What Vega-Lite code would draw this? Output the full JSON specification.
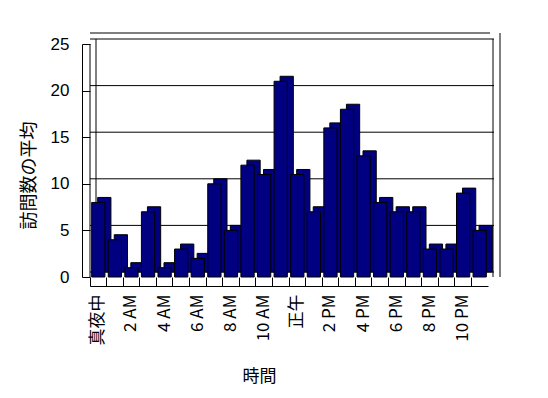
{
  "$schema": "https://vega.github.io/schema/vega-lite/v6.json",
  "width": 398,
  "height": 233,
  "autosize": "none",
  "padding": {"left": 90, "top": 44, "right": 60, "bottom": 121},
  "background": "white",
  "config": {"view": {"stroke": null}},
  "datasets": {
    "visits": [
      {"hour": "真夜中", "count": 8},
      {"hour": "1 AM", "count": 4},
      {"hour": "2 AM", "count": 1},
      {"hour": "3 AM", "count": 7},
      {"hour": "4 AM", "count": 1},
      {"hour": "5 AM", "count": 3},
      {"hour": "6 AM", "count": 2},
      {"hour": "7 AM", "count": 10},
      {"hour": "8 AM", "count": 5},
      {"hour": "9 AM", "count": 12},
      {"hour": "10 AM", "count": 11},
      {"hour": "11 AM", "count": 21},
      {"hour": "正午", "count": 11},
      {"hour": "1 PM", "count": 7},
      {"hour": "2 PM", "count": 16},
      {"hour": "3 PM", "count": 18},
      {"hour": "4 PM", "count": 13},
      {"hour": "5 PM", "count": 8},
      {"hour": "6 PM", "count": 7},
      {"hour": "7 PM", "count": 7},
      {"hour": "8 PM", "count": 3},
      {"hour": "9 PM", "count": 3},
      {"hour": "10 PM", "count": 9},
      {"hour": "11 PM", "count": 5}
    ],
    "grid": [{"count": 0}, {"count": 5}, {"count": 10}, {"count": 15}, {"count": 20}, {"count": 25}]
  },
  "layer": [
    {
      "data": {"name": "grid"},
      "mark": {"type": "rule", "color": "black", "strokeWidth": 1, "xOffset": 6, "x2Offset": 5, "yOffset": -5},
      "encoding": {
        "y": {"field": "count", "type": "quantitative", "scale": {"domain": [0, 25], "nice": false}}
      }
    },
    {
      "data": {"name": "grid"},
      "transform": [{"filter": "datum.count == 25"}],
      "mark": {"type": "rule", "color": "black", "strokeWidth": 1, "xOffset": 2, "x2Offset": 12, "yOffset": -11},
      "encoding": {
        "y": {"field": "count", "type": "quantitative"}
      }
    },
    {
      "data": {"name": "visits"},
      "transform": [{"filter": "datum.hour == '真夜中'"}],
      "mark": {"type": "rule", "color": "black", "strokeWidth": 1},
      "encoding": {
        "x": {"field": "hour", "type": "nominal", "bandPosition": 0}
      }
    },
    {
      "data": {"name": "visits"},
      "transform": [{"filter": "datum.hour == '真夜中'"}],
      "mark": {"type": "rule", "color": "black", "strokeWidth": 1, "xOffset": 6, "yOffset": -5, "y2Offset": -5},
      "encoding": {
        "x": {"field": "hour", "type": "nominal", "bandPosition": 0}
      }
    },
    {
      "data": {"name": "visits"},
      "transform": [{"filter": "datum.hour == '11 PM'"}],
      "mark": {"type": "rule", "color": "black", "strokeWidth": 1, "xOffset": 5, "yOffset": -5, "y2Offset": -5},
      "encoding": {
        "x": {"field": "hour", "type": "nominal", "bandPosition": 1}
      }
    },
    {
      "data": {"name": "visits"},
      "transform": [{"filter": "datum.hour == '11 PM'"}],
      "mark": {"type": "rule", "color": "black", "strokeWidth": 1, "xOffset": 12, "yOffset": -11, "y2Offset": -11},
      "encoding": {
        "x": {"field": "hour", "type": "nominal", "bandPosition": 1}
      }
    },
    {
      "data": {"name": "visits"},
      "mark": {"type": "bar", "fill": "#000080", "stroke": "black", "strokeWidth": 1, "width": {"band": 0.8}, "xOffset": 6, "yOffset": -5, "y2Offset": -5},
      "encoding": {
        "x": {"field": "hour", "type": "nominal", "sort": null},
        "y": {"field": "count", "type": "quantitative"}
      }
    },
    {
      "data": {"name": "visits"},
      "mark": {"type": "bar", "fill": "#000080", "stroke": "black", "strokeWidth": 1, "width": {"band": 0.8}},
      "encoding": {
        "x": {
          "field": "hour",
          "type": "nominal",
          "sort": null,
          "scale": {
            "domain": ["真夜中", "1 AM", "2 AM", "3 AM", "4 AM", "5 AM", "6 AM", "7 AM", "8 AM", "9 AM", "10 AM", "11 AM", "正午", "1 PM", "2 PM", "3 PM", "4 PM", "5 PM", "6 PM", "7 PM", "8 PM", "9 PM", "10 PM", "11 PM"],
            "paddingInner": 0,
            "paddingOuter": 0
          },
          "axis": {
            "title": "時間",
            "offset": 9,
            "tickSize": -9,
            "bandPosition": 0,
            "domainColor": "black",
            "tickColor": "black",
            "labelAngle": -90,
            "labelPadding": 17,
            "labelFont": "Noto Sans CJK JP",
            "labelFontSize": 17,
            "labelColor": "black",
            "labelExpr": "indexof(['真夜中','2 AM','4 AM','6 AM','8 AM','10 AM','正午','2 PM','4 PM','6 PM','8 PM','10 PM'], datum.label) >= 0 ? datum.label : ''",
            "titleFont": "Noto Sans CJK JP",
            "titleFontSize": 17,
            "titleFontWeight": "normal",
            "titleColor": "black",
            "titleX": 169,
            "titleY": 82
          }
        },
        "y": {
          "field": "count",
          "type": "quantitative",
          "scale": {"domain": [0, 25], "nice": false},
          "axis": {
            "title": "訪問数の平均",
            "offset": 8,
            "tickSize": -8,
            "values": [0, 5, 10, 15, 20, 25],
            "grid": false,
            "domainColor": "black",
            "tickColor": "black",
            "labelFont": "Liberation Sans",
            "labelFontSize": 17,
            "labelColor": "black",
            "labelPadding": 21,
            "titleFont": "Noto Sans CJK JP",
            "titleFontSize": 18,
            "titleFontWeight": "normal",
            "titleColor": "black",
            "titleX": -44,
            "titleY": 131
          }
        }
      }
    }
  ]
}
